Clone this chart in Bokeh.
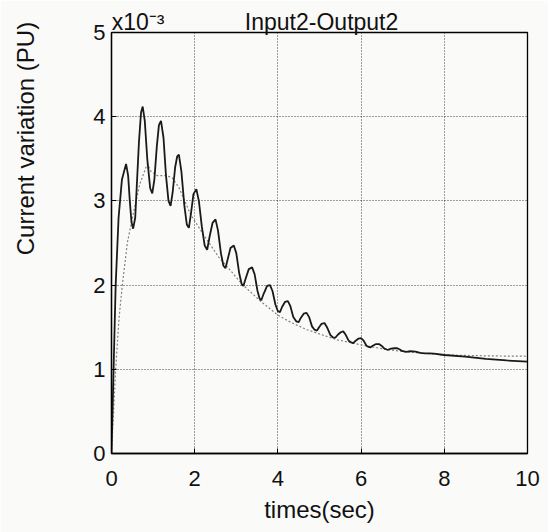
from bokeh.plotting import figure
from bokeh.models import Range1d, FixedTicker, LinearAxis
from bokeh.embed import file_html
from bokeh.resources import INLINE

# ---- data (time in s, current variation in units of 1e-3 PU) ----
t_osc = [0.00, 0.05, 0.10, 0.17, 0.25, 0.35, 0.40, 0.44, 0.48, 0.52, 0.57, 0.60, 0.66, 0.71, 0.75,
         0.80, 0.86, 0.93, 0.98, 1.03, 1.09, 1.14, 1.19, 1.25, 1.31, 1.37, 1.42, 1.47, 1.53, 1.58,
         1.62, 1.68, 1.75, 1.81, 1.86, 1.91, 1.97, 2.04, 2.10, 2.17, 2.24, 2.30, 2.36, 2.43, 2.50,
         2.56, 2.63, 2.69, 2.74, 2.79, 2.86, 2.94, 3.00, 3.07, 3.13, 3.17, 3.22, 3.30, 3.38, 3.44,
         3.51, 3.56, 3.60, 3.66, 3.74, 3.81, 3.87, 3.94, 4.00, 4.05, 4.10, 4.17, 4.24, 4.30, 4.37,
         4.44, 4.50, 4.55, 4.62, 4.69, 4.75, 4.82, 4.88, 4.94, 4.99, 5.05, 5.12, 5.18, 5.26, 5.32,
         5.38, 5.44, 5.51, 5.57, 5.63, 5.70, 5.76, 5.81, 5.87, 5.94, 6.00, 6.06, 6.13, 6.18, 6.22,
         6.28, 6.36, 6.43, 6.49, 6.56, 6.62, 6.65, 6.72, 6.80, 6.87, 6.93, 7.00, 7.09, 7.18, 7.31,
         7.42, 7.53, 7.65, 7.75, 8.00, 8.50, 9.00, 9.50, 10.00]
i_osc = [0.00, 1.00, 2.00, 2.80, 3.25, 3.44, 3.30, 3.00, 2.75, 2.67, 2.80, 3.10, 3.70, 4.05, 4.12,
         3.95, 3.50, 3.15, 3.09, 3.25, 3.65, 3.90, 3.95, 3.75, 3.30, 3.00, 2.94, 3.10, 3.40, 3.53,
         3.55, 3.35, 2.95, 2.72, 2.68, 2.85, 3.08, 3.14, 3.00, 2.70, 2.47, 2.42, 2.58, 2.74, 2.78,
         2.65, 2.38, 2.23, 2.20, 2.30, 2.44, 2.47, 2.38, 2.14, 2.01, 1.99, 2.07, 2.19, 2.21, 2.13,
         1.93, 1.84, 1.82, 1.90, 1.99, 2.00, 1.93, 1.77, 1.69, 1.68, 1.74, 1.80, 1.81, 1.75, 1.62,
         1.57, 1.56, 1.61, 1.66, 1.67, 1.62, 1.51, 1.47, 1.46, 1.50, 1.54, 1.55, 1.50, 1.41, 1.38,
         1.375, 1.41, 1.44, 1.45, 1.41, 1.34, 1.32, 1.31, 1.34, 1.365, 1.37, 1.34, 1.28, 1.265, 1.26,
         1.28, 1.30, 1.30, 1.28, 1.245, 1.235, 1.232, 1.245, 1.25, 1.25, 1.235, 1.215, 1.208, 1.215, 1.21,
         1.195, 1.188, 1.19, 1.185, 1.17, 1.15, 1.125, 1.105, 1.09]

t_smooth = [0.00, 0.05, 0.10, 0.18, 0.26, 0.38, 0.52, 0.68, 0.86, 0.95, 1.10, 1.30, 1.45, 1.62,
            1.90, 2.21, 2.58, 2.90, 3.14, 3.58, 3.98, 4.30, 4.70, 5.00, 5.43, 6.00, 6.50, 7.00,
            7.50, 8.00, 8.50, 9.00, 9.50, 10.00]
i_smooth = [0.00, 0.50, 1.00, 1.60, 2.00, 2.50, 2.84, 3.20, 3.44, 3.35, 3.30, 3.30, 3.28, 3.16,
            2.84, 2.60, 2.33, 2.15, 2.01, 1.81, 1.65, 1.56, 1.47, 1.42, 1.35, 1.29, 1.245, 1.21,
            1.19, 1.17, 1.165, 1.16, 1.157, 1.155]

x_ticks = [0, 2, 4, 6, 8, 10]
y_ticks = [0, 1, 2, 3, 4, 5]
title_text = "Input2-Output2"
exponent_text = "x10\u207b\u00b3"
x_label = "times(sec)"
y_label = "Current variation (PU)"
# positions (data units) at which the header texts are centred
exponent_at = 0.64
title_at = 5.05
y_label_at = 3.74

FONT = "Liberation Sans"
BG = "#fafaf8"
INK = "#111111"

p = figure(width=548, height=532, output_backend="svg", toolbar_location=None,
           x_range=Range1d(0, 10), y_range=Range1d(0, 5),
           min_border_left=111, min_border_right=21, min_border_top=32, min_border_bottom=79)
p.background_fill_color = BG
p.border_fill_color = BG
p.outline_line_color = "black"
p.outline_line_width = 1.3

for ax, ticks in ((p.xaxis, x_ticks), (p.yaxis, y_ticks)):
    ax.ticker = FixedTicker(ticks=ticks)
    ax.major_tick_in = 5
    ax.major_tick_out = 0
    ax.minor_tick_line_color = None
    ax.axis_line_color = "black"
    ax.axis_line_width = 1.3
    ax.major_label_text_font = FONT
    ax.major_label_text_font_size = "22px"
    ax.major_label_text_color = INK

p.xaxis.major_label_standoff = 17
p.yaxis.major_label_standoff = 6
p.xaxis.axis_label = x_label
p.xaxis.axis_label_text_font = FONT
p.xaxis.axis_label_text_font_size = "24px"
p.xaxis.axis_label_text_font_style = "normal"
p.xaxis.axis_label_text_color = INK
p.xaxis.axis_label_standoff = 7

# header line: exponent and title as labels of an unlined axis above the frame
top = LinearAxis(ticker=FixedTicker(ticks=[exponent_at, title_at]),
                 major_label_overrides={exponent_at: exponent_text, title_at: title_text},
                 axis_line_color=None, major_tick_line_color=None, minor_tick_line_color=None,
                 major_label_standoff=-8, major_label_text_font=FONT,
                 major_label_text_font_size="23px", major_label_text_color=INK)
p.add_layout(top, "above")

# y label as a rotated label of an unlined axis on the left
side = LinearAxis(ticker=FixedTicker(ticks=[y_label_at]),
                  major_label_overrides={y_label_at: y_label},
                  major_label_orientation="vertical",
                  axis_line_color=None, major_tick_line_color=None, minor_tick_line_color=None,
                  major_label_standoff=45, major_label_text_font=FONT,
                  major_label_text_font_size="24px", major_label_text_color=INK)
p.add_layout(side, "left")

for g in (p.xgrid, p.ygrid):
    g.grid_line_color = "black"
    g.grid_line_alpha = 0.75
    g.grid_line_dash = "1 2"
    g.grid_line_width = 1

p.line(t_smooth, i_smooth, line_color="#808080", line_width=1.2, line_dash="2 2")
p.line(t_osc, i_osc, line_color="#1a1a1a", line_width=1.8)

open("out.html", "w").write(file_html(p, INLINE))
